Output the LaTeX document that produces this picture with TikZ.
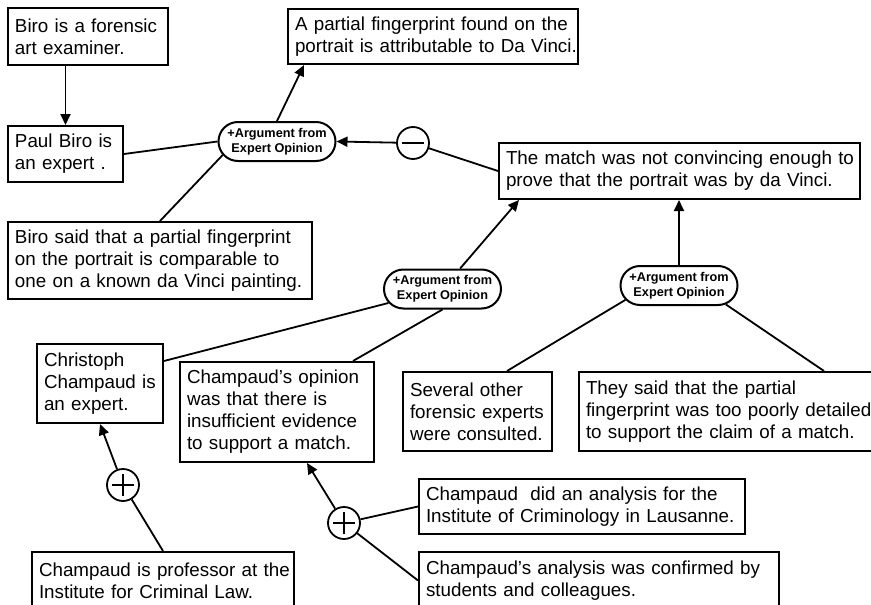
\documentclass[tikz,border=0pt]{standalone}
\usepackage{fontspec}
\setmainfont{Liberation Sans}
\usetikzlibrary{arrows.meta,shapes.misc,calc}
\begin{document}
\begin{tikzpicture}[x=1pt,y=-1pt,
  box/.style={draw, line width=2pt, fill=white, align=left, inner xsep=7pt, inner ysep=0pt,
    font=\fontsize{18.8}{22}\selectfont},
  arg/.style={draw, rounded rectangle, line width=2pt, fill=white, minimum width=117pt,
    minimum height=39pt, inner sep=0pt, align=center, font=\fontsize{12.7}{15}\selectfont\bfseries},
  pm/.style={circle, draw, line width=1.8pt, fill=white, minimum size=32pt, inner sep=0pt},
  plussign/.style={pm, path picture={
      \draw[line width=1.4pt] ([xshift=-11pt]path picture bounding box.center) -- ([xshift=11pt]path picture bounding box.center);
      \draw[line width=1.4pt] ([yshift=-11pt]path picture bounding box.center) -- ([yshift=11pt]path picture bounding box.center);}},
  minussign/.style={pm, path picture={
      \draw[line width=1.4pt] ([xshift=-11pt]path picture bounding box.center) -- ([xshift=11pt]path picture bounding box.center);}},
  link/.style={line width=1.8pt},
  arr/.style={line width=1.8pt, -{Triangle[length=11pt,width=10pt]}}
]
\useasboundingbox (0,0) rectangle (871,605);
\clip (0,0) rectangle (871,605);

% boxes
\node[box, text width=146pt, minimum height=57pt] (b1) at (88,36.5)
  {\mbox{Biro is a forensic}\\\mbox{art examiner.}};
\node[box, text width=101pt, minimum height=56pt] (b2) at (65.5,154)
  {\mbox{Paul Biro is}\\\mbox{an expert .}};
\node[box, text width=276pt, minimum height=55pt] (b3) at (433,36.5)
  {\mbox{A partial fingerprint found on the}\\\mbox{portrait is attributable to Da Vinci.}};
\node[box, text width=347pt, minimum height=56pt] (b6) at (679.5,171)
  {\mbox{The match was not convincing enough to}\\\mbox{prove that the portrait was by da Vinci.}};
\node[box, text width=290pt, minimum height=77pt] (b9) at (160,260.5)
  {\mbox{Biro said that a partial fingerprint}\\\mbox{on the portrait is comparable to}\\\mbox{one on a known da Vinci painting.}};
\node[box, text width=112pt, minimum height=79pt] (b10) at (100,383.5)
  {\mbox{Christoph}\\\mbox{Champaud is}\\\mbox{an expert.}};
\node[box, text width=180pt, minimum height=100pt] (b11) at (277,412)
  {\mbox{Champaud’s opinion}\\\mbox{was that there is}\\\mbox{insufficient evidence}\\\mbox{to support a match.}};
\node[box, text width=135pt, minimum height=79pt] (b12) at (477.5,411.5)
  {\mbox{Several other}\\\mbox{forensic experts}\\\mbox{were consulted.}};
\node[box, text width=286pt, minimum height=79pt] (b13) at (729,411.5)
  {\mbox{They said that the partial}\\\mbox{fingerprint was too poorly detailed}\\\mbox{to support the claim of a match.}};
\node[box, text width=248pt, minimum height=57pt] (b16) at (163,580.5)
  {\mbox{Champaud is professor at the}\\\mbox{Institute for Criminal Law.}};
\node[box, text width=312pt, minimum height=55pt] (b17) at (582,506.5)
  {\mbox{Champaud\ \ did an analysis for the}\\\mbox{Institute of Criminology in Lausanne.}};
\node[box, text width=346pt, minimum height=57pt] (b18) at (599,580.5)
  {\mbox{Champaud’s analysis was confirmed by}\\\mbox{students and colleagues.}};

% argument nodes
\node[arg] (a1) at (277,141.5) {+Argument from\\Expert Opinion};
\node[arg] (a2) at (442.5,289) {+Argument from\\Expert Opinion};
\node[arg] (a3) at (679,285.5) {+Argument from\\Expert Opinion};

% plus / minus
\node[minussign] (m) at (413,143) {};
\node[plussign] (p1) at (123,485) {};
\node[plussign] (p2) at (344,523) {};

% connectors
\draw[arr] (b1.south -| b2.north) -- (b2.north);
\draw[link] (b2.east) -- (a1.west);
\draw[arr] (a1.north) -- ($(b3.south west)+(17,0)$);
\draw[link] (a1.194) -- (b9.north);
\draw[arr] (m) -- (a1.east);
\draw[link] (b6.west) -- (m);
\draw[arr] (a2) -- ($(b6.south west)+(21,0)$);
\draw[arr] (a3.north) -- (a3.north |- b6.south);
\draw[link] (a2) -- ($(b10.north east)+(0,18)$);
\draw[link] (a2.south) -- ($(b11.north east)+(-22,0)$);
\draw[link] (a3.195) -- ($(b12.north west)+(105,0)$);
\draw[link] (a3.338) -- ($(b13.north west)+(246,0)$);
\draw[arr] (p1) -- (b10.south);
\draw[link] (b16.north) -- (p1);
\draw[arr] (p2) -- ($(b11.south)+(30,0)$);
\draw[link] (b17.west) -- (p2);
\draw[link] (b18.west) -- (p2);
\end{tikzpicture}
\end{document}
